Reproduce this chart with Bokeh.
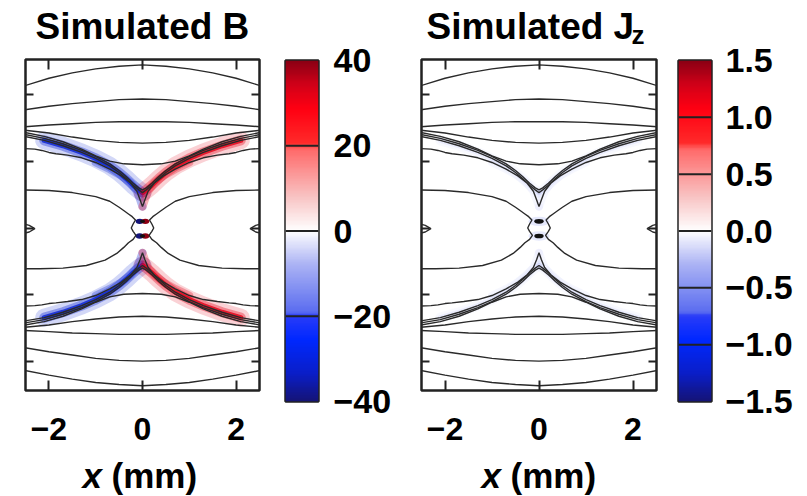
import numpy as np
from bokeh.plotting import figure
from bokeh.layouts import row, column
from bokeh.models import LinearAxis, FixedTicker, LinearColorMapper, ColumnDataSource
from bokeh.transform import linear_cmap
from bokeh.core.properties import value
from bokeh.embed import file_html
from bokeh.resources import INLINE

# ---------------- data ----------------
X_TICKS = [-2, 0, 2]
X_TICK_LABELS = ["\u22122", "0", "2"]
Y_TICKS = [-2, -1, 0, 1, 2]
B_TICKS = [-40, -20, 0, 20, 40]
B_TICK_LABELS = ["\u221240", "\u221220", "0", "20", "40"]
J_TICKS = [-1.5, -1.0, -0.5, 0.0, 0.5, 1.0, 1.5]
J_TICK_LABELS = ["\u22121.5", "\u22121.0", "\u22120.5", "0.0", "0.5", "1.0", "1.5"]
TITLE_B = "Simulated B"
TITLE_J = "Simulated J"
TITLE_J_SUB = "z"
X_LABEL_VAR = "x"
X_LABEL_UNIT = "(mm)"

# contour lines, right half (x >= 0, mm); mirrored to the left half
XA = [0, 0.5, 1.0, 1.5, 2.0, 2.6]
ARC1_TOP = [2.44, 2.42, 2.38, 2.32, 2.24, 2.11]
ARC2_TOP = [1.93, 1.92, 1.89, 1.86, 1.82, 1.76]
ARC3_TOP = [1.59, 1.59, 1.58, 1.56, 1.54, 1.51]
CAP_TOP = [1.27, 1.28, 1.31, 1.36, 1.42, 1.47]
ARC1_BOT = [-2.36, -2.34, -2.31, -2.26, -2.20, -2.12]
ARC2_BOT = [-1.99, -1.98, -1.95, -1.90, -1.85, -1.78]
ARC3_BOT = [-1.59, -1.59, -1.58, -1.57, -1.55, -1.53]
CAP_BOT = [-1.32, -1.33, -1.36, -1.40, -1.45, -1.49]

XM = [0, 0.4, 0.7, 1.0, 1.3, 1.7, 2.1, 2.6]
M_TOP = [0.945, 0.96, 1.00, 1.08, 1.18, 1.29, 1.37, 1.44]
M_BOT = [-0.98, -0.99, -1.03, -1.11, -1.21, -1.32, -1.40, -1.46]

XS = [0, 0.08, 0.2, 0.35, 0.5, 0.7, 1.0, 1.3, 1.7, 2.1, 2.6]
S1_TOP = [0.57, 0.60, 0.67, 0.77, 0.86, 0.96, 1.07, 1.16, 1.26, 1.34, 1.41]
S2_TOP = [0.53, 0.57, 0.64, 0.74, 0.83, 0.93, 1.04, 1.13, 1.23, 1.31, 1.38]
S1_BOT = [-0.60, -0.63, -0.70, -0.80, -0.89, -0.99, -1.10, -1.19, -1.29, -1.37, -1.43]
S2_BOT = [-0.56, -0.60, -0.67, -0.77, -0.86, -0.96, -1.07, -1.16, -1.26, -1.34, -1.40]

XS3 = [0, 0.05, 0.12, 0.25, 0.45, 0.7, 1.0, 1.3, 1.6, 1.85, 2.0, 2.15, 2.3, 2.6]
S3_TOP = [0.32, 0.42, 0.55, 0.67, 0.78, 0.88, 0.98, 1.05, 1.09, 1.11, 1.13, 1.16, 1.18, 1.19]
S3_BOT = [-0.37, -0.47, -0.59, -0.70, -0.81, -0.91, -1.01, -1.07, -1.10, -1.12, -1.13, -1.15, -1.16, -1.17]

WAIST_X = [2.6, 2.0, 1.5, 1.0, 0.7, 0.5, 0.38, 0.3, 0.22, 0.15, 0.2, 0.24, 0.2, 0.14, 0.2, 0.3,
           0.4, 0.55, 0.8, 1.2, 1.7, 2.2, 2.6]
WAIST_Y = [0.57, 0.56, 0.53, 0.47, 0.40, 0.31, 0.25, 0.21, 0.17, 0.12, 0.06, 0.0, -0.05, -0.11,
           -0.17, -0.22, -0.29, -0.38, -0.48, -0.56, -0.60, -0.61, -0.61]

LOOP_X = [2.6, 2.42, 2.30, 2.42, 2.6]
LOOP_Y = [0.07, 0.04, -0.01, -0.06, -0.09]

BLOB_Y = [0.10, -0.12]          # small islands on the axis
B_BAND = 32                     # B along the separatrix arms (left -, right +)
B_BLOB = 40
J_BAND = -0.3
J_BLOB = -1.5

# ---------------- styling ----------------
FONT = "Liberation Sans"
INK = "#2a2a2a"
CMAP_STOPS = [0.0, 0.08, 0.18, 0.25, 0.26, 0.40, 0.50, 0.60, 0.74, 0.76, 0.86, 0.93, 1.0]
CMAP_COLORS = ["#141478", "#0a1ec8", "#0028ff", "#2a3cf8", "#5a6cf0", "#aab2f4", "#ffffff",
               "#f8c4c4", "#ff6a6a", "#ff2a2a", "#ff0012", "#d20018", "#8c0014"]


def build_palette(n=256):
    rgb = np.array([[int(c[i:i + 2], 16) for i in (1, 3, 5)] for c in CMAP_COLORS], float)
    out = []
    for tv in np.linspace(0, 1, n):
        r, g, b = (np.interp(tv, CMAP_STOPS, rgb[:, k]) for k in range(3))
        out.append("#%02x%02x%02x" % (int(round(r)), int(round(g)), int(round(b))))
    return out


PALETTE = build_palette()

XMIN, XMAX = -2.5, 2.5
YMIN, YMAX = -2.43, 2.52
TOTAL_H = 496
TOP_H, BOT_H = 49, 41
ROW_H = TOTAL_H - TOP_H - BOT_H
RIGHT_BORDER = 11


def full_curve(xs, ys):
    return [-x for x in xs[::-1]] + list(xs[1:]), list(ys[::-1]) + list(ys[1:])


SYM_CURVES = [(XA, ARC1_TOP), (XA, ARC2_TOP), (XA, ARC3_TOP), (XA, CAP_TOP),
              (XA, ARC1_BOT), (XA, ARC2_BOT), (XA, ARC3_BOT), (XA, CAP_BOT),
              (XM, M_TOP), (XM, M_BOT),
              (XS, S1_TOP), (XS, S2_TOP), (XS, S1_BOT), (XS, S2_BOT),
              (XS3, S3_TOP), (XS3, S3_BOT)]
SIDE_CURVES = [(WAIST_X, WAIST_Y), (LOOP_X, LOOP_Y)]

CX, CY = [], []
for xs, ys in SYM_CURVES:
    fx, fy = full_curve(xs, ys)
    CX.append(fx)
    CY.append(fy)
for xs, ys in SIDE_CURVES:
    CX.append(list(xs)); CY.append(list(ys))
    CX.append([-x for x in xs]); CY.append(list(ys))


def arm_paths(xs, ys_top, ys_bot, xmax):
    paths_x, paths_y, sides = [], [], []
    for ys in (ys_top, ys_bot):
        for s in (-1, 1):
            px = [s * x for x, y in zip(xs, ys) if x <= xmax]
            py = [y for x, y in zip(xs, ys) if x <= xmax]
            paths_x.append(px); paths_y.append(py); sides.append(s)
    return paths_x, paths_y, sides


def frame_axes(p):
    for side, ticks, tin in (("below", X_TICKS, 10), ("above", X_TICKS, 10),
                             ("left", Y_TICKS, 8), ("right", Y_TICKS, 8)):
        ax = LinearAxis(ticker=FixedTicker(ticks=ticks), axis_line_color=None,
                        major_tick_in=tin, major_tick_out=0, minor_tick_in=0, minor_tick_out=0,
                        major_tick_line_color="#222222", major_tick_line_width=2)
        if side == "below":
            ax.major_label_overrides = {t: l for t, l in zip(X_TICKS, X_TICK_LABELS)}
            ax.major_label_text_font = FONT
            ax.major_label_text_font_size = "32px"
            ax.major_label_text_font_style = "bold"
            ax.major_label_text_color = "black"
            ax.major_label_standoff = 27
        else:
            ax.major_label_text_color = None
            ax.major_label_text_font_size = "1px"
            ax.major_label_standoff = 0
        p.add_layout(ax, side)


def make_panel(width, left_border, field_lo, field_hi, band_val, blob_val, split_sign):
    p = figure(width=width, height=ROW_H, x_range=(XMIN, XMAX), y_range=(YMIN, YMAX),
               min_border_left=left_border, min_border_right=RIGHT_BORDER,
               min_border_top=10, min_border_bottom=ROW_H - 10 - 331,
               x_axis_location=None, y_axis_location=None, toolbar_location=None,
               output_backend="svg", title=None)
    p.grid.visible = False
    p.background_fill_color = "white"
    p.border_fill_color = "white"
    p.outline_line_color = "#222222"
    p.outline_line_width = 2.5

    cm = linear_cmap("v", PALETTE, field_lo, field_hi)
    # coloured bands along the separatrix arms
    bx, by, sides = arm_paths(XS, S2_TOP, S2_BOT, 2.2)
    vals = [band_val * s if split_sign else band_val for s in sides]
    src = ColumnDataSource(dict(xs=bx, ys=by, v=vals))
    widths = (18, 10, 5) if split_sign else (10, 5)
    alphas = (0.18, 0.35, 0.8) if split_sign else (0.08, 0.18)
    for w, a in zip(widths, alphas):
        p.multi_line("xs", "ys", source=src, line_color=cm, line_width=w, line_alpha=a, line_cap="round")
    bx3, by3, sides3 = arm_paths(XS3, S3_TOP, S3_BOT, 1.2)
    vals3 = [band_val * s if split_sign else band_val for s in sides3]
    src3 = ColumnDataSource(dict(xs=bx3, ys=by3, v=vals3))
    p.multi_line("xs", "ys", source=src3, line_color=cm, line_width=8,
                 line_alpha=0.3 if split_sign else 0.1, line_cap="round")

    # islands at the centre
    if split_sign:
        bsrc = ColumnDataSource(dict(x=[-0.06, 0.06, -0.06, 0.06],
                                     y=[BLOB_Y[0], BLOB_Y[0], BLOB_Y[1], BLOB_Y[1]],
                                     v=[-blob_val, blob_val, -blob_val, blob_val]))
        p.ellipse("x", "y", width=0.17, height=0.08, source=bsrc, fill_color=cm, line_color=None)
        p.ellipse(x=[0, 0], y=BLOB_Y, width=0.11, height=0.05, fill_color="#111111", line_color=None)
    else:
        bsrc = ColumnDataSource(dict(x=[0, 0], y=BLOB_Y, v=[band_val, band_val]))
        p.ellipse("x", "y", width=0.45, height=0.14, source=bsrc, fill_color=cm, fill_alpha=0.3, line_color=None)
        p.ellipse(x=[0, 0], y=BLOB_Y, width=0.2, height=0.07, fill_color="#111111", line_color=None)

    p.multi_line(CX, CY, line_color=INK, line_width=1.4)
    frame_axes(p)
    return p


def make_bar(width, left_border, lo, hi, ticks, labels, standoff):
    p = figure(width=width, height=TOTAL_H, x_range=(0, 1), y_range=(lo, hi),
               min_border_left=left_border, min_border_right=width - left_border - 33,
               min_border_top=60, min_border_bottom=TOTAL_H - 60 - 341,
               x_axis_location=None, y_axis_location=None, toolbar_location=None,
               output_backend="svg", title=None)
    p.grid.visible = False
    p.border_fill_color = "white"
    mapper = LinearColorMapper(palette=PALETTE, low=lo, high=hi)
    grad = np.linspace(lo, hi, 400).reshape(-1, 1)
    p.image(image=[grad], x=0, y=lo, dw=1, dh=hi - lo, color_mapper=mapper)
    inner = ticks[1:-1]
    p.segment(x0=[0] * len(inner), x1=[1] * len(inner), y0=inner, y1=inner,
              line_color="#222222", line_width=2)
    p.outline_line_color = "#222222"
    p.outline_line_width = 2.5
    ax = LinearAxis(ticker=FixedTicker(ticks=ticks), axis_line_color=None,
                    major_tick_in=0, major_tick_out=0, minor_tick_in=0, minor_tick_out=0,
                    major_label_overrides={t: l for t, l in zip(ticks, labels)},
                    major_label_standoff=standoff, major_label_text_font=FONT,
                    major_label_text_font_size="34px", major_label_text_font_style="bold",
                    major_label_text_color="black")
    p.add_layout(ax, "right")
    return p


def text_strip(width, left_border, height):
    # shares the panel's horizontal frame, so text sits relative to the plot frame
    s = figure(width=width, height=height, x_range=(XMIN, XMAX), y_range=(height, 0),
               min_border_left=left_border, min_border_right=RIGHT_BORDER,
               min_border_top=0, min_border_bottom=0, x_axis_location=None, y_axis_location=None,
               toolbar_location=None, output_backend="svg", title=None)
    s.grid.visible = False
    s.outline_line_color = None
    s.border_fill_color = "white"
    s.background_fill_color = "white"
    return s


def put(s, dx, y, text, size, style="bold"):
    s.text(x=[XMIN], y=[y], x_offset=dx, text=[text], text_font=value(FONT), text_font_size=f"{size}px",
           text_font_style=style, text_align="left", text_baseline="alphabetic", text_color="black")


# left panel (B)
top1 = text_strip(270, 25, TOP_H)
put(top1, 10, 26, TITLE_B, 37)
bot1 = text_strip(270, 25, BOT_H)
put(bot1, 57, 20, X_LABEL_VAR, 35, style="bold italic")
put(bot1, 86, 20, X_LABEL_UNIT, 35)
f1 = make_panel(270, 25, -40, 40, B_BAND, B_BLOB, True)
cb1 = make_bar(130, 15, -40, 40, B_TICKS, B_TICK_LABELS, 15)

# right panel (Jz)
top2 = text_strip(267, 21, TOP_H)
put(top2, 5, 26, TITLE_J, 37)
put(top2, 210, 34, TITLE_J_SUB, 26)
bot2 = text_strip(267, 21, BOT_H)
put(bot2, 60, 20, X_LABEL_VAR, 35, style="bold italic")
put(bot2, 89, 20, X_LABEL_UNIT, 35)
f2 = make_panel(267, 21, -1.5, 1.5, J_BAND, J_BLOB, False)
cb2 = make_bar(140, 11, -1.5, 1.5, J_TICKS, J_TICK_LABELS, 14)

layout = row(column(top1, f1, bot1, spacing=0), cb1,
             column(top2, f2, bot2, spacing=0), cb2, spacing=0)
open("out.html", "w").write(file_html(layout, INLINE))
